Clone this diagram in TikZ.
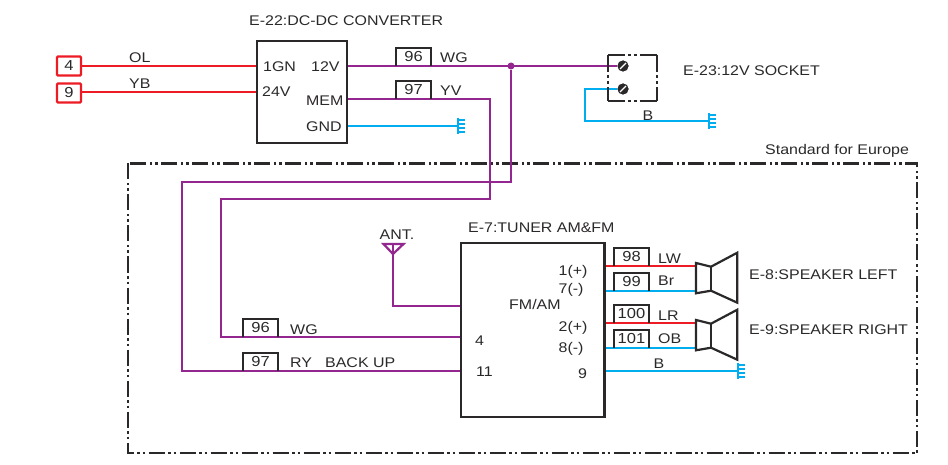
\documentclass[tikz,border=0pt]{standalone}
\usepackage{fontspec}
\setmainfont[FakeStretch=1.14]{Liberation Sans}
\definecolor{wpur}{HTML}{93278F}
\definecolor{wred}{HTML}{ED1C24}
\definecolor{wblu}{HTML}{00AEEF}
\definecolor{ink}{HTML}{2B2829}
\tikzset{
  x=1pt,y=-1pt,
  lbl/.style={inner sep=0pt,text=ink,font=\fontsize{14}{16}\selectfont,anchor=base west,yshift=-0.7pt},
  clbl/.style={inner sep=0pt,text=ink,font=\fontsize{14}{16}\selectfont,anchor=base,yshift=-0.7pt},
  comp/.style={draw=ink,line width=2.2pt,fill=white,inner sep=0pt},
  numbox/.style={inner sep=0pt,text=ink,font=\fontsize{14.5}{16}\selectfont,minimum width=35pt,minimum height=18pt},
  numline/.style={draw=ink,line width=2pt},
  termbox/.style={draw=wred,line width=2.4pt,rounded corners=1pt,text=ink,inner sep=0pt,minimum width=24pt,minimum height=19pt,font=\fontsize{14.5}{16}\selectfont},
  pur/.style={draw=wpur,line width=2.2pt,line join=miter},
  red/.style={draw=wred,line width=2.2pt},
  blu/.style={draw=wblu,line width=2.2pt,line join=miter},
  frame/.style={draw=ink,line width=2.2pt,dash pattern=on 16pt off 3.5pt on 2.5pt off 3pt on 2.5pt off 3.5pt},
  sockline/.style={draw=ink,line width=2.2pt,dash pattern=on 17pt off 3pt on 3pt off 3pt on 3pt off 3pt},
  spk/.style={draw=ink,line width=2.2pt,line join=miter},
  pin/.style={circle,fill=ink,inner sep=0pt,minimum size=11pt},
  dotj/.style={circle,fill=wpur,inner sep=0pt,minimum size=7pt},
}
\newcommand{\gnddraw}[1]{%
  \draw[wblu,line width=2.8pt] ([yshift=8pt]#1) -- ([yshift=-8pt]#1);
  \foreach \dy in {-6,-2,2,6}{\draw[wblu,line width=1.8pt] ([yshift=\dy pt]#1) -- ([xshift=7pt,yshift=\dy pt]#1);}
}
\newcommand{\numboxdraw}[1]{%
  \draw[numline] (#1.south west) -- (#1.north west) -- (#1.north east) -- (#1.south east);
}
\newcommand{\nb}[1]{\raisebox{-1.2pt}{#1}}
\begin{document}
\begin{tikzpicture}
\useasboundingbox (0,0) rectangle (948,465);

% outer frame
\draw[frame] (128,163.5) rectangle (917,453);
\node[lbl] (std) at (765,154) {Standard for Europe};

% component boxes
\node[comp,minimum width=90pt,minimum height=102pt] (dc) at (302,92) {};
\node[comp,minimum width=143.5pt,minimum height=174pt] (tun) at (532.7,330) {};
\node[termbox] (t4) at (69,66) {4};
\node[termbox] (t9) at (69,93) {9};

% anchor coordinates
\coordinate (dcA) at (dc.west |- 0,66);
\coordinate (dcB) at (dc.west |- 0,92);
\coordinate (dcC) at (dc.east |- 0,66);
\coordinate (dcD) at (dc.east |- 0,99);
\coordinate (dcE) at (dc.east |- 0,126);
\node[pin] (p1) at (623,66) {};
\node[pin] (p2) at (623,89) {};
\node[dotj] (jn) at (511,66) {};
\coordinate (g1) at (458,126);
\coordinate (g2) at (709,121);
\coordinate (g3) at (738,371);
\coordinate (tA) at (tun.west |- 0,306);
\coordinate (t4p) at (tun.west |- 0,337);
\coordinate (t11p) at (tun.west |- 0,371);
\coordinate (t98) at (tun.east |- 0,266);
\coordinate (t99) at (tun.east |- 0,291);
\coordinate (t100) at (tun.east |- 0,323);
\coordinate (t101) at (tun.east |- 0,348);
\coordinate (t9g) at (tun.east |- 0,371);
\coordinate (s1a) at (696,266);
\coordinate (s1b) at (696,291);
\coordinate (s2a) at (696,323);
\coordinate (s2b) at (696,348);
\coordinate (ant) at (393,253);

% wires
\draw[red] (t4.east |- dcA) -- (dcA);
\draw[red] (t9.east |- dcB) -- (dcB);
\draw[pur] (dcC) -- (p1);
\draw[pur] (dcD) -- (490,99) -- (490,199) -- (221,199) -- (221,337) -- (t4p);
\draw[pur] (jn) -- (511,182) -- (182,182) -- (182,371) -- (t11p);
\draw[pur] (ant) -- (393,306) -- (tA);
\draw[pur] (383.5,244) -- (403.5,244) -- (393,254) -- cycle;
\draw[pur] (393,244) -- (393,254);
\draw[blu] (dcE) -- (g1);
\draw[blu] (p2) -- (585,89) -- (585,121) -- (g2);
\draw[blu] (t9g) -- (g3);
\draw[red] (t98) -- (s1a);
\draw[blu] (t99) -- (s1b);
\draw[red] (t100) -- (s2a);
\draw[blu] (t101) -- (s2b);
\gnddraw{g1}
\gnddraw{g2}
\gnddraw{g3}

% socket
\node[inner sep=0pt,minimum width=49pt,minimum height=46pt] (sock) at (632.5,78) {};
\draw[sockline] (sock.north west) -- (sock.north east);
\draw[sockline] (sock.south west) -- (sock.south east);
\draw[sockline] (sock.north west) -- (sock.south west);
\draw[sockline] (sock.north east) -- (sock.south east);
\node[pin] at (p1) {};
\node[pin] at (p2) {};
\draw[white,line width=1.2pt] (620,69) -- (626,63);
\draw[white,line width=1.2pt] (620,92) -- (626,86);

% speakers
\draw[spk] (696,263) -- (711,266.7) -- (737.3,252.7) -- (737.3,302.7) -- (711,290.7) -- (696,293.3) -- cycle;
\draw[spk] (711,266.7) -- (711,290.7);
\draw[spk] (696,320) -- (711,323.7) -- (737.3,309.7) -- (737.3,359.7) -- (711,347.7) -- (696,350.3) -- cycle;
\draw[spk] (711,323.7) -- (711,347.7);

% numbered tags
\node[numbox] (n96a) at (413.5,57) {\nb{96}};
\node[numbox] (n97a) at (413.5,90) {\nb{97}};
\node[numbox] (n96b) at (260.5,328) {\nb{96}};
\node[numbox] (n97b) at (260.5,362) {\nb{97}};
\node[numbox] (n98) at (631.5,257) {\nb{98}};
\node[numbox] (n99) at (631.5,282) {\nb{99}};
\node[numbox] (n100) at (631.5,314) {\nb{100}};
\node[numbox] (n101) at (631.5,339) {\nb{101}};
\numboxdraw{n96a}\numboxdraw{n97a}\numboxdraw{n96b}\numboxdraw{n97b}
\numboxdraw{n98}\numboxdraw{n99}\numboxdraw{n100}\numboxdraw{n101}

% labels
\node[lbl] (l1) at (249,25) {E-22:DC-DC CONVERTER};
\node[lbl] (l2) at (129,62) {OL};
\node[lbl] (l3) at (129,88) {YB};
\node[lbl] (l4) at (263,71) {1GN};
\node[lbl] (l5) at (262,96) {24V};
\node[lbl] (l6) at (311,71) {12V};
\node[lbl] (l7) at (306,105) {MEM};
\node[lbl] (l8) at (306,131) {GND};
\node[lbl] (l9) at (440,62) {WG};
\node[lbl] (l10) at (440,95) {YV};
\node[lbl] (l11) at (683,75) {E-23:12V SOCKET};
\node[clbl] (l12) at (648,120) {B};
\node[clbl] (l13) at (397,239) {ANT.};
\node[lbl] (l14) at (468,232) {E-7:TUNER AM\&FM};
\node[lbl] (l15) at (558.5,275) {1(+)};
\node[lbl] (l16) at (558.5,293) {7(-)};
\node[lbl] (l17) at (509,309) {FM/AM};
\node[lbl] (l18) at (558.5,331) {2(+)};
\node[lbl] (l19) at (558.5,352) {8(-)};
\node[lbl] (l20) at (475,345) {4};
\node[lbl] (l21) at (476,376) {11};
\node[lbl] (l22) at (578,378) {9};
\node[lbl] (l23) at (290,334) {WG};
\node[lbl] (l24) at (290,367) {RY};
\node[lbl] (l25) at (325,367) {BACK UP};
\node[lbl] (l26) at (658,263) {LW};
\node[lbl] (l27) at (658,285) {Br};
\node[lbl] (l28) at (658,320) {LR};
\node[lbl] (l29) at (658,343) {OB};
\node[clbl] (l30) at (659,368) {B};
\node[lbl] (l31) at (749,279) {E-8:SPEAKER LEFT};
\node[lbl] (l32) at (749,334) {E-9:SPEAKER RIGHT};
\end{tikzpicture}
\end{document}
